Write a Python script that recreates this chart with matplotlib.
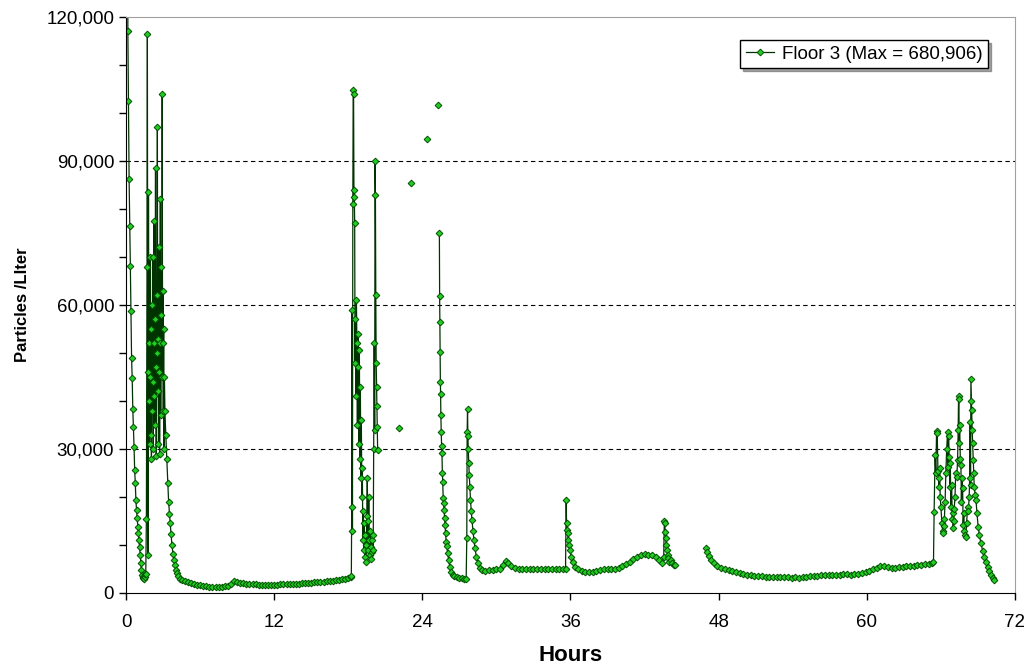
import numpy as np
import matplotlib
matplotlib.use('Agg')
import matplotlib.pyplot as plt
from matplotlib.ticker import FuncFormatter, MultipleLocator

plt.rcParams['font.family'] = ['Liberation Sans', 'DejaVu Sans']

# first run: 0 - 20.4 h
seg1_hours = [0.00, 0.08, 0.15, 0.20, 0.25, 0.30, 0.35, 0.40, 0.45, 0.50, 0.55, 0.60, 0.65, 0.70,
              0.75, 0.80, 0.85, 0.90, 0.95, 1.00, 1.05, 1.10, 1.15, 1.20, 1.25, 1.30, 1.35, 1.40,
              1.45, 1.50, 1.55,
              1.60, 1.65, 1.70, 1.73, 1.76, 1.79, 1.82, 1.85, 1.88, 1.91, 1.94, 1.97, 2.00, 2.03,
              2.06, 2.09, 2.12, 2.15, 2.18, 2.21, 2.24, 2.27, 2.30, 2.33, 2.36, 2.39, 2.42, 2.45,
              2.48, 2.51, 2.54, 2.57, 2.60, 2.63, 2.66, 2.69, 2.72, 2.75, 2.78, 2.81, 2.84, 2.87,
              2.90, 2.93, 2.96, 2.99, 3.02, 3.05, 3.08, 3.11, 3.15,
              3.22, 3.30, 3.38, 3.45, 3.52, 3.58, 3.65, 3.72, 3.80, 3.88, 3.96, 4.05, 4.15, 4.25,
              4.40, 4.55, 4.75, 5.00, 5.25, 5.50, 5.75,
              6.00, 6.25, 6.50, 6.75, 7.00, 7.25, 7.50, 7.75, 8.00, 8.25, 8.50, 8.75, 9.00, 9.25,
              9.50, 9.75, 10.00, 10.25, 10.50, 10.75, 11.00, 11.25, 11.50, 11.75, 12.00, 12.25,
              12.50, 12.75, 13.00, 13.25, 13.50, 13.75, 14.00, 14.25, 14.50, 14.75, 15.00, 15.25,
              15.50, 15.75, 16.00, 16.25, 16.50, 16.75, 17.00, 17.25, 17.50, 17.75, 18.00, 18.20,
              18.25, 18.28, 18.31, 18.34, 18.37, 18.40, 18.43, 18.46, 18.49, 18.52, 18.55, 18.58,
              18.62, 18.66, 18.70, 18.74, 18.78, 18.82, 18.86, 18.90, 18.94, 18.98, 19.02, 19.06,
              19.10, 19.14, 19.18, 19.22, 19.26, 19.30, 19.34, 19.38, 19.42, 19.46, 19.50, 19.54,
              19.58, 19.62, 19.66, 19.70, 19.74, 19.78, 19.82, 19.86, 19.90, 19.94, 19.98, 20.02,
              20.06, 20.10, 20.14, 20.17, 20.20, 20.23, 20.26, 20.29, 20.32, 20.35, 20.38]
seg1_ppl = [680906, 240000, 117000, 102500, 86300, 76500, 68200, 58800, 49000, 44800, 38300, 34600,
            30500, 25600, 23000, 19400, 17300, 15600, 13700, 12500, 11000, 9600, 7900, 6200, 4800,
            3700, 3300, 3100, 3000, 3300, 3900,
            4000, 15500, 68000, 116500, 46000, 8000, 83500, 40000, 52000, 31000, 70000, 45000,
            33000, 55000, 28000, 60000, 38000, 70000, 44000, 30000, 52000, 77500, 41000, 35000,
            57000, 88500, 47000, 28500, 50000, 62000, 97000, 42000, 53000, 31000, 46000, 72000,
            29000, 52000, 82000, 37000, 58000, 68000, 45000, 104000, 52000, 63000, 38000, 55000,
            30000, 45000, 38000,
            33000, 28000, 23000, 19000, 16500, 14500, 12300, 10000, 8200, 6900, 5800, 4800, 4100,
            3500, 3000, 2700, 2400, 2200, 2000, 1800, 1700,
            1600, 1500, 1400, 1350, 1300, 1300, 1300, 1350, 1400, 1500, 1900, 2400, 2300, 2100,
            2000, 1900, 1850, 1800, 1800, 1750, 1750, 1750, 1750, 1750, 1750, 1750,
            1800, 1800, 1800, 1850, 1850, 1900, 1950, 2000, 2050, 2100, 2150, 2200,
            2250, 2300, 2350, 2450, 2500, 2600, 2700, 2800, 2900, 3000, 3200, 3400,
            3600, 18000, 59000, 13000, 81000, 104800, 104000, 84000, 82500, 77000, 48000, 57000,
            41000, 61000, 52000, 35000, 54000, 47000, 31000, 50600, 28000, 43000, 24000, 36000,
            20000, 26000, 11000, 17000, 9000, 14500, 7500, 12000, 6500, 10000, 16000, 24000,
            15000, 9000, 20000, 11000, 8000, 13000, 9500, 7000, 11000, 8500, 12000, 9000,
            30000, 52000, 34000, 90000, 83000, 62000, 48000, 43000, 39000, 34600, 29800]

# readings with no neighbours
iso_hours = [22.1, 23.1, 24.4, 25.25]
iso_ppl = [34300, 85500, 94500, 101700]

# second run: 25.4 - 44.5 h
seg2_hours = [25.38, 25.40, 25.42, 25.44, 25.46, 25.48, 25.50, 25.53, 25.56, 25.59, 25.62, 25.65,
              25.69, 25.72, 25.76, 25.80, 25.84, 25.88, 25.93, 25.98, 26.05, 26.13, 26.22, 26.32,
              26.45, 26.60, 26.80, 27.00, 27.20, 27.40, 27.55,
              27.60, 27.63, 27.66, 27.69, 27.72, 27.76, 27.80, 27.85, 27.90, 27.96, 28.02, 28.10,
              28.18, 28.27, 28.37, 28.50, 28.65, 28.85, 29.10, 29.40, 29.70, 30.00, 30.30, 30.55,
              30.75, 30.95, 31.20, 31.50, 31.80, 32.10, 32.40, 32.70, 33.00, 33.30, 33.60, 33.90,
              34.20, 34.50, 34.80, 35.10, 35.40, 35.60,
              35.65, 35.68, 35.72, 35.76, 35.82, 35.88, 35.95, 36.05, 36.18, 36.35, 36.60, 36.90,
              37.20, 37.50, 37.80, 38.10, 38.40, 38.70, 39.00, 39.30, 39.60, 39.90, 40.20, 40.50,
              40.80, 41.10, 41.40, 41.70, 42.00, 42.30, 42.60, 42.90, 43.20, 43.45, 43.55,
              43.60, 43.63, 43.67, 43.71, 43.76, 43.81, 43.87, 43.93, 44.00, 44.10, 44.20, 44.35,
              44.50]
seg2_ppl = [75000, 61900, 56400, 50300, 44000, 41400, 37100, 33600, 30700, 29100, 25100, 23200,
            19700, 18700, 17300, 15600, 14200, 12400, 10700, 9700, 8300, 6900, 5500, 4400,
            3800, 3500, 3300, 3200, 3100, 3000, 3000,
            11400, 33600, 38300, 32600, 30000, 27000, 24600, 22000, 19400, 17000, 15200, 13000,
            11000, 9300, 7600, 6200, 5300, 4800, 4600, 4700, 4800, 4900, 5100, 5800,
            6600, 6200, 5600, 5300, 5100, 5000, 4900, 5000, 4900, 5000, 5100, 5000,
            5000, 5100, 5000, 5100, 5100, 5100,
            19400, 14500, 13200, 12500, 11000, 10000, 9000, 7600, 6500, 5500, 4900, 4600,
            4400, 4300, 4400, 4600, 4800, 4900, 5000, 5000, 5100, 5300, 5600, 6000,
            6500, 7100, 7600, 8000, 8200, 8000, 7900, 7500, 6900, 6300, 7500,
            15100, 14500, 12800, 11400, 10000, 9000, 8000, 7200, 6500, 6800, 6300, 5900,
            5800]

# third run: 47 - 70.3 h
seg3_hours = [46.95, 47.05, 47.20, 47.40, 47.65, 47.90, 48.20, 48.50, 48.80, 49.10, 49.40, 49.70,
              50.00, 50.30, 50.60, 50.90, 51.20, 51.50, 51.80, 52.10, 52.40, 52.70, 53.00, 53.30,
              53.60, 53.90, 54.20, 54.50, 54.80, 55.10, 55.40, 55.70, 56.00, 56.30, 56.60, 56.90,
              57.20, 57.50, 57.80, 58.10, 58.40, 58.70, 59.00, 59.30, 59.60, 59.90, 60.20, 60.50,
              60.80, 61.10, 61.40, 61.70, 62.00, 62.30, 62.60, 62.90, 63.20, 63.50, 63.80, 64.10,
              64.40, 64.70, 65.00, 65.25, 65.40,
              65.45, 65.53, 65.59, 65.65, 65.70, 65.76, 65.82, 65.86, 65.90, 65.94, 66.00, 66.08,
              66.14, 66.18, 66.22, 66.28, 66.34, 66.40, 66.47, 66.54, 66.58, 66.63, 66.67, 66.72,
              66.76, 66.81, 66.87, 66.92, 66.95, 66.99, 67.04, 67.08, 67.14, 67.20, 67.29, 67.35,
              67.40, 67.43, 67.46, 67.48, 67.52, 67.57, 67.62, 67.66, 67.70, 67.76, 67.80, 67.85,
              67.90, 67.96, 68.02, 68.08, 68.16, 68.22, 68.29, 68.33, 68.37, 68.40, 68.43, 68.47,
              68.49, 68.53, 68.57, 68.62, 68.66, 68.70, 68.77, 68.84, 68.92, 69.02, 69.12, 69.24,
              69.38, 69.51, 69.65, 69.79, 69.92, 70.05, 70.20, 70.32]
seg3_ppl = [9300, 8600, 7800, 6900, 6200, 5700, 5300, 5000, 4700, 4500, 4300, 4100,
            4000, 3800, 3700, 3600, 3500, 3500, 3400, 3400, 3400, 3300, 3300, 3300,
            3300, 3200, 3300, 3200, 3300, 3400, 3500, 3500, 3600, 3700, 3800, 3700,
            3800, 3800, 3800, 3900, 3900, 3800, 3900, 4000, 4200, 4300, 4600, 4900,
            5300, 5600, 5700, 5400, 5200, 5300, 5400, 5500, 5600, 5600, 5700, 5800,
            5900, 6000, 6100, 6300, 6500,
            16900, 28700, 25000, 33800, 33300, 25500, 24000, 22100, 26000, 20000, 18000, 14500,
            13000, 12400, 14000, 15500, 19000, 25000, 30000, 33600, 26300, 32800, 28400, 22000,
            27000, 18000, 22500, 15500, 16600, 13500, 15000, 17600, 20000, 25000, 24200, 27700,
            34000, 41000, 40500, 31200, 35000, 28000, 26700, 19000, 23900, 21800, 14200, 16600,
            13000, 12000, 11700, 14500, 18000, 17000, 20000, 24000, 35700, 22500, 44600, 40000,
            38100, 34000, 31200, 27700, 25000, 22100, 20500, 19400, 16600, 13800, 12000, 10400,
            8800, 7600, 6500, 5500, 4600, 3750, 3100, 2700]

series_label = 'Floor 3 (Max = 680,906)'
x_ticks = [0, 12, 24, 36, 48, 60, 72]

line_color = '#003300'
face_color = '#22cc22'
edge_color = '#005000'
marker_style = dict(marker='D', markersize=3.4, markerfacecolor=face_color,
                    markeredgecolor=edge_color, markeredgewidth=0.7)

fig = plt.figure(figsize=(10.27, 6.68), dpi=100)
ax = fig.add_axes([0.1227, 0.1123, 0.8656, 0.8623])

ax.plot(seg1_hours, seg1_ppl, color=line_color, lw=0.9, label=series_label, **marker_style)
ax.plot(iso_hours, iso_ppl, linestyle='none', **marker_style)
ax.plot(seg2_hours, seg2_ppl, color=line_color, lw=0.9, **marker_style)
ax.plot(seg3_hours, seg3_ppl, color=line_color, lw=0.9, **marker_style)

ax.set_xlim(0, 72)
ax.set_ylim(0, 120000)
ax.set_xticks(x_ticks)
ax.yaxis.set_major_locator(MultipleLocator(30000))
ax.yaxis.set_minor_locator(MultipleLocator(10000))
ax.yaxis.set_major_formatter(FuncFormatter(lambda v, p: f'{int(v):,}'))
ax.tick_params(axis='both', which='both', direction='out', length=5, width=1, labelsize=13.5)
ax.tick_params(axis='x', pad=10)

for v in [30000, 60000, 90000]:
    ax.axhline(v, color='black', lw=0.8, linestyle=(0, (4, 3)), zorder=0)

ax.spines['left'].set_color('black')
ax.spines['bottom'].set_color('black')
ax.spines['top'].set_color('#a0a0a0')
ax.spines['right'].set_color('#a0a0a0')

ax.set_xlabel('Hours', fontsize=16, fontweight='bold', labelpad=10)
ax.set_ylabel('Particles /LIter', fontsize=12, fontweight='bold', labelpad=12)

leg = ax.legend(loc='upper right', bbox_to_anchor=(0.962, 0.940), bbox_transform=fig.transFigure,
                fontsize=13.5, frameon=True, fancybox=False, shadow=True, handlelength=1.5,
                handletextpad=0.4, borderpad=0.3, borderaxespad=0)
leg.get_frame().set_edgecolor('black')
leg.get_frame().set_linewidth(1.0)

fig.savefig('out.png', dpi=100)
